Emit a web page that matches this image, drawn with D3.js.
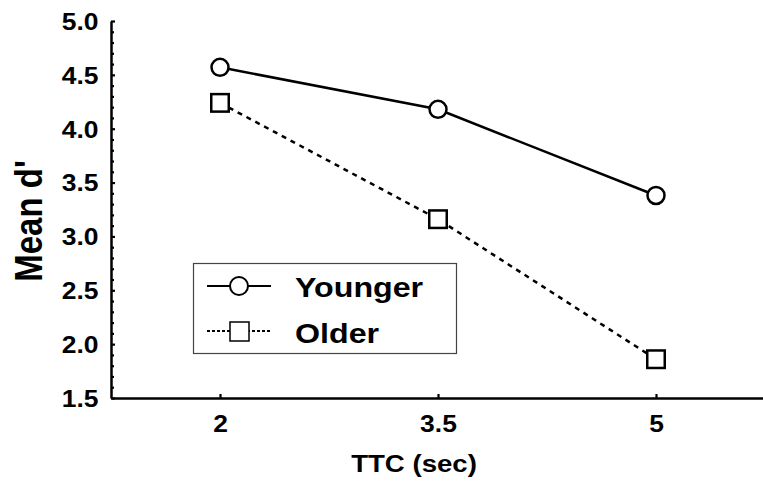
<!DOCTYPE html>
<html>
<head>
<meta charset="utf-8">
<script src="https://cdn.jsdelivr.net/npm/d3@7"></script>
<style>
  html, body { margin: 0; padding: 0; background: #fff; }
  svg { display: block; }
  text { font-family: "Liberation Sans", Arial, Helvetica, sans-serif; font-weight: bold; fill: #000; }
</style>
</head>
<body>
<svg id="chart" width="763" height="483"></svg>
<script>
// ---- data ----
const ttc = [2, 3.5, 5];
const xTickLabels = ["2", "3.5", "5"];
const younger = [4.57, 4.18, 3.38];
const older = [4.24, 3.16, 1.86];
const yTicks = [1.5, 2.0, 2.5, 3.0, 3.5, 4.0, 4.5, 5.0];
const seriesNames = ["Younger", "Older"];

const svg = d3.select("#chart");
const SX = 1.15; // horizontal text stretch

const x = d3.scaleLinear().domain([1.25, 5.75]).range([111, 765]);
const y = d3.scaleLinear().domain([1.5, 5.0]).range([398, 21]);

// y axis minor ticks
const minor = d3.range(15, 51).map(v => v / 10).filter(v => Math.abs(v * 2 - Math.round(v * 2)) > 1e-6);
svg.append("g").attr("transform", "translate(111,0)")
  .call(d3.axisLeft(y).tickValues(minor).tickSizeInner(-3).tickSizeOuter(0).tickFormat(""))
  .call(g => g.select(".domain").remove())
  .call(g => g.selectAll("line").attr("stroke", "#000").attr("stroke-width", 2.2));

// y axis major
const yAx = svg.append("g").attr("transform", "translate(111,0)")
  .call(d3.axisLeft(y).tickValues(yTicks).tickSizeInner(-4).tickSizeOuter(0).tickPadding(12).tickFormat(d3.format(".1f")));
yAx.select(".domain").attr("stroke", "#000").attr("stroke-width", 2.5);
yAx.selectAll("line").attr("stroke", "#000").attr("stroke-width", 2.2);
yAx.selectAll("text").attr("font-size", 23).attr("font-family", null).attr("fill", "#000")
  .attr("x", -12.5 / SX).attr("dy", "0.36em").attr("transform", `scale(${SX},1)`);

// x axis
const xAx = svg.append("g").attr("transform", "translate(0,398)")
  .call(d3.axisBottom(x).tickValues(ttc).tickSizeInner(-4).tickSizeOuter(0).tickPadding(0).tickFormat((d, i) => xTickLabels[i]));
xAx.select(".domain").attr("stroke", "#000").attr("stroke-width", 2.5);
xAx.selectAll("line").attr("stroke", "#000").attr("stroke-width", 2.2);
xAx.selectAll("text").attr("font-size", 23).attr("font-family", null).attr("fill", "#000")
  .attr("y", 34).attr("dy", null).attr("transform", `scale(${SX},1)`);

// axis titles
svg.append("text").attr("transform", `translate(414,472) scale(${SX},1)`)
  .attr("text-anchor", "middle").attr("font-size", 24).text("TTC (sec)");
svg.append("text").attr("transform", `translate(42,221) rotate(-90) scale(1,${SX})`)
  .attr("text-anchor", "middle").attr("font-size", 33).text("Mean d'");

// lines
const line = d3.line().x((d, i) => x(ttc[i])).y(d => y(d));
svg.append("path").datum(younger).attr("d", line).attr("fill", "none")
  .attr("stroke", "#000").attr("stroke-width", 2.5);
svg.append("path").datum(older).attr("d", line).attr("fill", "none")
  .attr("stroke", "#000").attr("stroke-width", 2.5).attr("stroke-dasharray", "5,5");

// markers
svg.selectAll("circle.y").data(younger).enter().append("circle")
  .attr("cx", (d, i) => x(ttc[i])).attr("cy", d => y(d)).attr("r", 8.5)
  .attr("fill", "#fff").attr("stroke", "#000").attr("stroke-width", 2.5);
const sq = 17.5;
svg.selectAll("rect.o").data(older).enter().append("rect")
  .attr("x", (d, i) => x(ttc[i]) - sq / 2).attr("y", d => y(d) - sq / 2)
  .attr("width", sq).attr("height", sq)
  .attr("fill", "#fff").attr("stroke", "#000").attr("stroke-width", 2.5);

// legend
const lg = svg.append("g");
lg.append("rect").attr("x", 193.5).attr("y", 263.5).attr("width", 263).attr("height", 90)
  .attr("fill", "#fff").attr("stroke", "#444").attr("stroke-width", 1.2);
// Younger row
lg.append("line").attr("x1", 207).attr("x2", 271).attr("y1", 286).attr("y2", 286)
  .attr("stroke", "#000").attr("stroke-width", 2);
lg.append("circle").attr("cx", 239).attr("cy", 286).attr("r", 9)
  .attr("fill", "#fff").attr("stroke", "#000").attr("stroke-width", 2);
lg.append("text").attr("transform", `translate(295,297) scale(${SX},1)`)
  .attr("font-size", 28).text(seriesNames[0]);
// Older row
lg.append("line").attr("x1", 207).attr("x2", 271).attr("y1", 331).attr("y2", 331)
  .attr("stroke", "#000").attr("stroke-width", 2).attr("stroke-dasharray", "3,2");
lg.append("rect").attr("x", 230).attr("y", 322).attr("width", 19).attr("height", 19)
  .attr("fill", "#fff").attr("stroke", "#000").attr("stroke-width", 1.5);
lg.append("text").attr("transform", `translate(295,343) scale(${SX},1)`)
  .attr("font-size", 28).text(seriesNames[1]);
</script>
</body>
</html>
